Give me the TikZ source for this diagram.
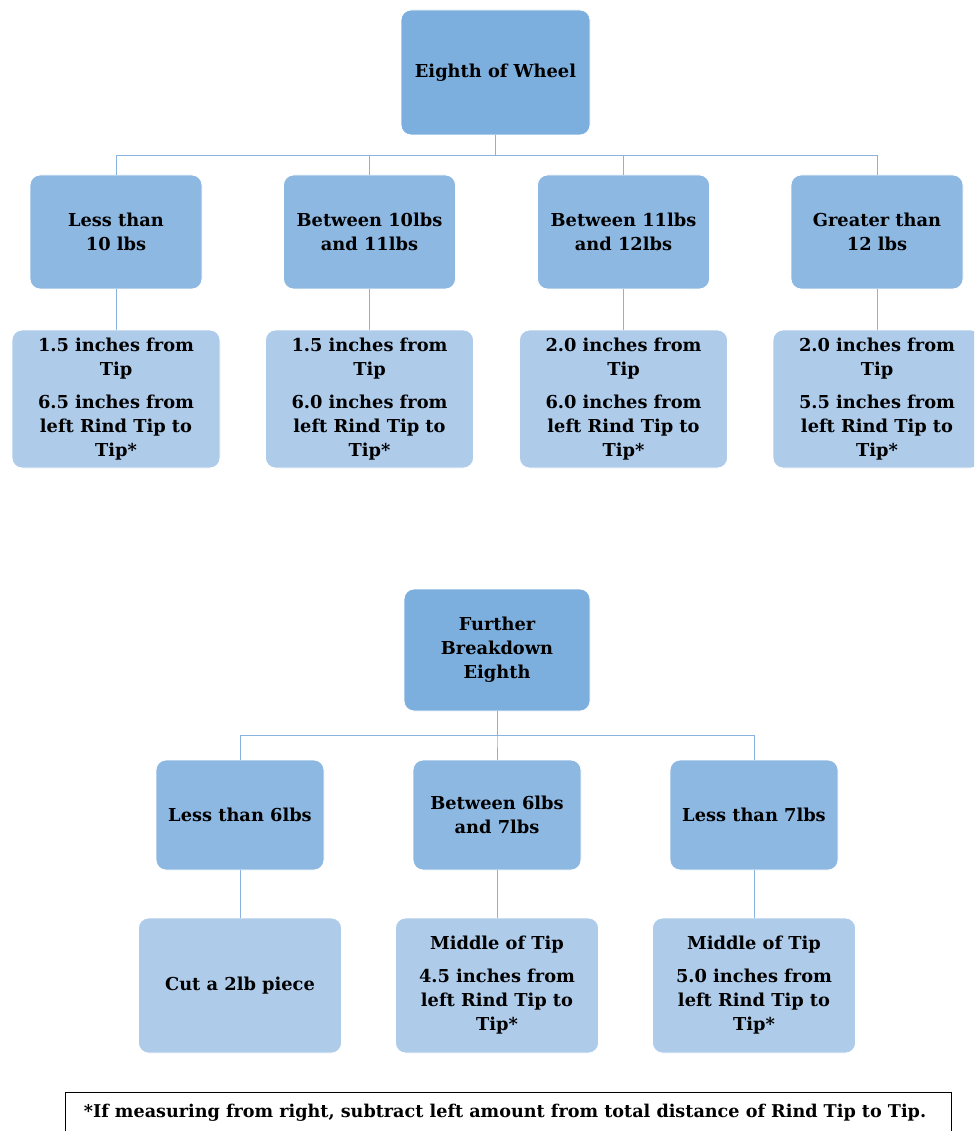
\documentclass[tikz,border=0pt]{standalone}
\usepackage{fontspec}
\setmainfont{DejaVu Serif}
\begin{document}
\begin{tikzpicture}[x=1pt,y=-1pt,
  txt/.style={font=\fontsize{17.8}{24}\selectfont\bfseries, align=center, text=black},
  rootbox/.style={txt, fill=rootblue, draw=white, line width=0.8pt, rounded corners=10pt, inner sep=0pt},
  midbox/.style={txt, fill=midblue, draw=white, line width=0.8pt, rounded corners=10pt, inner sep=0pt},
  leafbox/.style={txt, fill=leafblue, draw=white, line width=0.8pt, rounded corners=10pt, inner sep=0pt},
  link/.style={draw=linkblue, line width=0.9pt},
  note/.style={draw=black, line width=0.8pt, fill=white}]
\definecolor{rootblue}{HTML}{7DAFDE}
\definecolor{midblue}{HTML}{8DB8E2}
\definecolor{leafblue}{HTML}{AECBEA}
\definecolor{linkblue}{HTML}{8AB2DE}
\useasboundingbox (0,0) rectangle (974,1131);
\clip (0,0) rectangle (974,1131);
\fill[white] (0,0) rectangle (974,1131);

% ---------- first tree ----------
\node[rootbox, minimum width=189pt, minimum height=125pt] (r1) at (495.5,72.5) {Eighth of Wheel};

\node[midbox, minimum width=172pt, minimum height=114pt] (a1) at (116,232) {Less than\\10 lbs};
\node[midbox, minimum width=172pt, minimum height=114pt] (a2) at (369.5,232) {Between 10lbs\\and 11lbs};
\node[midbox, minimum width=172pt, minimum height=114pt] (a3) at (623.5,232) {Between 11lbs\\and 12lbs};
\node[midbox, minimum width=172pt, minimum height=114pt] (a4) at (877,232) {Greater than\\12 lbs};

\node[leafbox, minimum width=208pt, minimum height=138pt] (b1) at (116,399)
  {1.5 inches from\\Tip\\[9pt]6.5 inches from\\left Rind Tip to\\Tip*};
\node[leafbox, minimum width=208pt, minimum height=138pt] (b2) at (369.5,399)
  {1.5 inches from\\Tip\\[9pt]6.0 inches from\\left Rind Tip to\\Tip*};
\node[leafbox, minimum width=208pt, minimum height=138pt] (b3) at (623.5,399)
  {2.0 inches from\\Tip\\[9pt]6.0 inches from\\left Rind Tip to\\Tip*};
\node[leafbox, minimum width=208pt, minimum height=138pt] (b4) at (877,399)
  {2.0 inches from\\Tip\\[9pt]5.5 inches from\\left Rind Tip to\\Tip*};

\coordinate (bus1) at (495.5,155);
\foreach \c in {a1,a2,a3,a4}
  \draw[link] (r1.south) -- (bus1) -| (\c.north);
\draw[link] (a1.south) -- (b1.north);
\draw[link] (a2.south) -- (b2.north);
\draw[link] (a3.south) -- (b3.north);
\draw[link] (a4.south) -- (b4.north);

% ---------- second tree ----------
\node[rootbox, minimum width=186pt, minimum height=122pt] (r2) at (497,650) {Further\\Breakdown\\Eighth};

\node[midbox, minimum width=168pt, minimum height=110pt] (c1) at (240,815) {Less than 6lbs};
\node[midbox, minimum width=168pt, minimum height=110pt] (c2) at (497,815) {Between 6lbs\\and 7lbs};
\node[midbox, minimum width=168pt, minimum height=110pt] (c3) at (754,815) {Less than 7lbs};

\node[leafbox, minimum width=203pt, minimum height=135pt] (d1) at (240,985.5) {Cut a 2lb piece};
\node[leafbox, minimum width=203pt, minimum height=135pt] (d2) at (497,985.5)
  {Middle of Tip\\[9pt]4.5 inches from\\left Rind Tip to\\Tip*};
\node[leafbox, minimum width=203pt, minimum height=135pt] (d3) at (754,985.5)
  {Middle of Tip\\[9pt]5.0 inches from\\left Rind Tip to\\Tip*};

\coordinate (bus2) at (497,735);
\foreach \c in {c1,c2,c3}
  \draw[link] (r2.south) -- (bus2) -| (\c.north);
\draw[link] (c1.south) -- (d1.north);
\draw[link] (c2.south) -- (d2.north);
\draw[link] (c3.south) -- (d3.north);

% ---------- footnote ----------
\draw[note] (65,1092) rectangle (951,1150);
\node[txt, font=\fontsize{17.6}{20}\selectfont\bfseries] (fn) at (505,1113)
  {*If measuring from right, subtract left amount from total distance of Rind Tip to Tip.};
\end{tikzpicture}
\end{document}
